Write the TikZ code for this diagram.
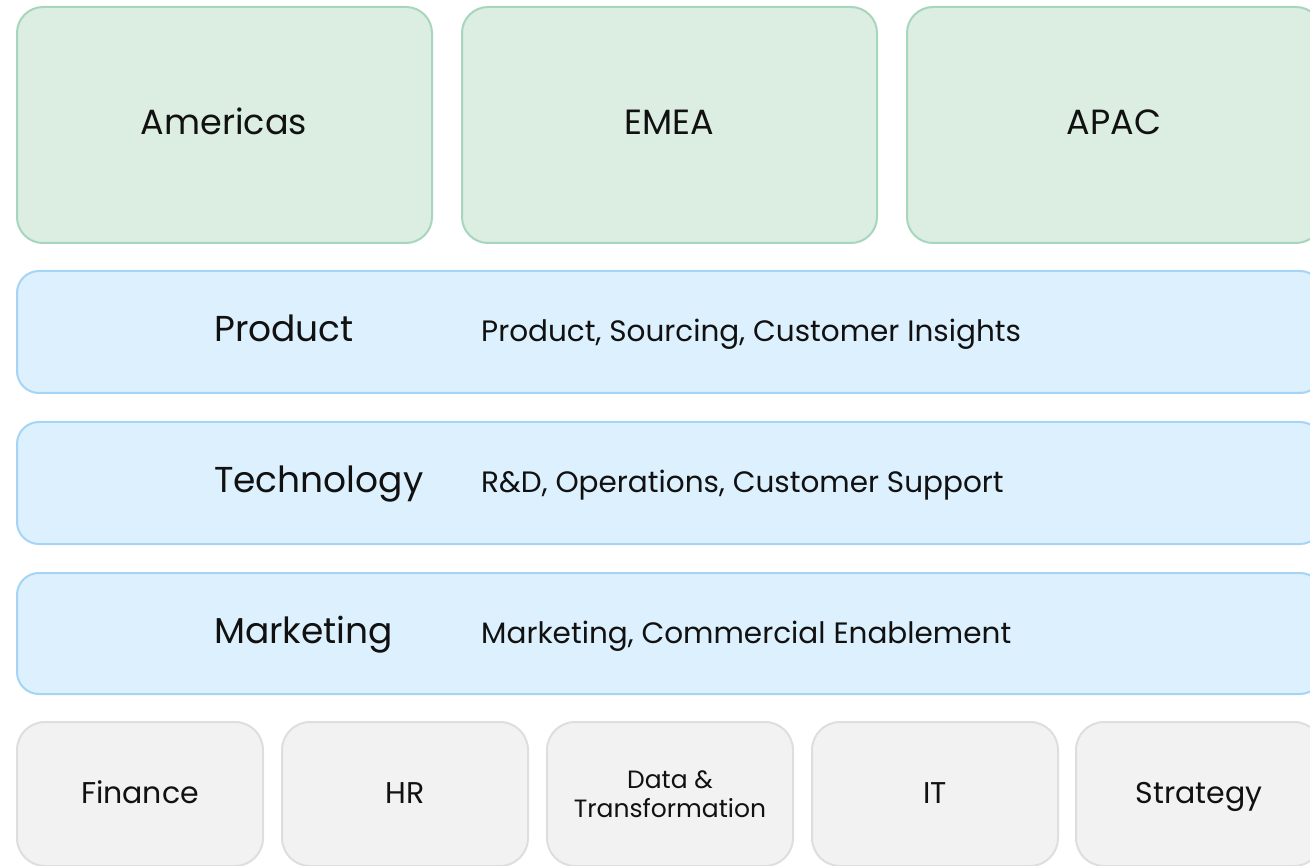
\documentclass[tikz,border=0pt]{standalone}
\usepackage{fontspec}
\setmainfont{Poppins}
\usetikzlibrary{positioning}
\definecolor{gfill}{HTML}{DCEDE2}
\definecolor{gline}{HTML}{A8D5BD}
\definecolor{bfill}{HTML}{DDF0FD}
\definecolor{bline}{HTML}{A6D4F4}
\definecolor{kfill}{HTML}{F2F2F2}
\definecolor{kline}{HTML}{DEDEDE}
\definecolor{ink}{HTML}{111111}
\tikzset{
  region/.style={draw=gline, fill=gfill, line width=2pt, rounded corners=26pt},
  unit/.style={draw=bline, fill=bfill, line width=2pt, rounded corners=22pt},
  func/.style={draw=kline, fill=kfill, line width=2pt, rounded corners=28pt},
  big/.style={text=ink, anchor=base, inner sep=0pt, font=\fontsize{35}{42}\selectfont},
  title/.style={text=ink, anchor=base west, inner sep=0pt, font=\fontsize{36}{42}\selectfont},
  desc/.style={text=ink, anchor=base west, inner sep=0pt, font=\fontsize{29.5}{36}\selectfont},
  small/.style={text=ink, anchor=base, inner sep=0pt, font=\fontsize{30}{36}\selectfont},
  tiny/.style={text=ink, anchor=base, inner sep=0pt, font=\fontsize{25}{30}\selectfont}
}
\begin{document}
\begin{tikzpicture}[x=1pt,y=-1pt]
\useasboundingbox (0,0) rectangle (1310,866);
% regions
\draw[region] (17,7) rectangle (432,243);
\draw[region] (462,7) rectangle (877,243);
\draw[region] (907,7) rectangle (1322,243);
\node[big] (am) at (224,135) {Americas};
\node[big] (em) at (669,135) {EMEA};
\node[big] (ap) at (1114,135) {APAC};
% units
\draw[unit] (17,271) rectangle (1322,393);
\draw[unit] (17,422) rectangle (1322,544);
\draw[unit] (17,573) rectangle (1322,694);
\node[title] (pt) at (214,342) {Product};
\node[desc] (pd) at (481,342) {Product, Sourcing, Customer Insights};
\node[title] (tt) at (214,493) {Technology};
\node[desc] (td) at (481,493) {R\&D, Operations, Customer Support};
\node[title] (mt) at (214,643) {Marketing};
\node[desc] (md) at (481,643) {Marketing, Commercial Enablement};
% functions
\draw[func] (17,722) rectangle (263,866);
\draw[func] (282,722) rectangle (528,866);
\draw[func] (547,722) rectangle (793,866);
\draw[func] (812,722) rectangle (1058,866);
\draw[func] (1076,722) rectangle (1322,866);
\node[small] (fi) at (140,803) {Finance};
\node[small] (hr) at (405,803) {HR};
\node[tiny] (dt1) at (670,788) {Data \&};
\node[tiny] (dt2) at (670,817) {Transformation};
\node[small] (it) at (935,803) {IT};
\node[small] (st) at (1199,803) {Strategy};
\end{tikzpicture}
\end{document}
